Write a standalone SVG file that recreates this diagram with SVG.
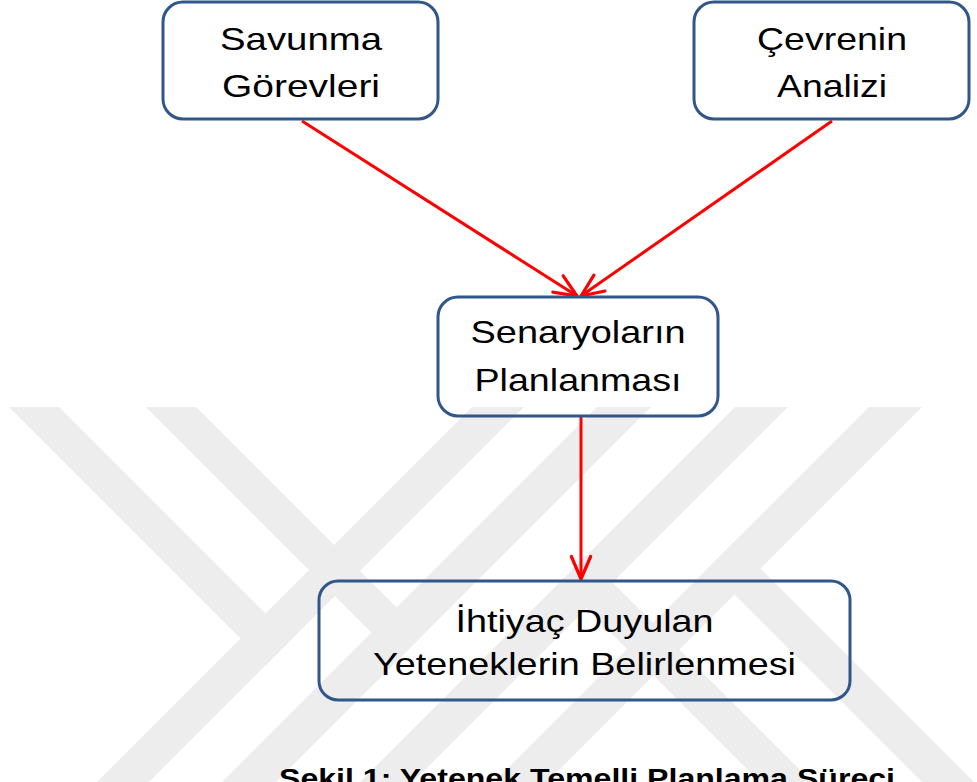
<svg xmlns="http://www.w3.org/2000/svg" width="977" height="782" viewBox="0 0 977 782">
  <defs>
    <style>
      .box { fill: none; stroke: #30568a; stroke-width: 3; }
      .lbl { font-family: "Liberation Sans", Arial, sans-serif; font-size: 32px; fill: #000; text-anchor: middle; }
      .cap { font-family: "Liberation Sans", Arial, sans-serif; font-size: 27px; font-weight: bold; fill: #000; text-anchor: middle; }
      .edge { stroke: #ff0000; stroke-width: 3; fill: none; marker-end: url(#head); }
      .wm { fill: #ededed; }
    </style>
    <marker id="head" markerUnits="userSpaceOnUse" markerWidth="30" markerHeight="30" refX="0" refY="0" viewBox="-24 -12 28 24" orient="auto" overflow="visible">
      <path d="M-21,-9 L0,0 L-21,9" fill="none" stroke="#ff0000" stroke-width="3" stroke-linejoin="round" stroke-linecap="round"/>
    </marker>
  </defs>

  <rect width="977" height="782" fill="#ffffff"/>

  <!-- background emblem: diagonal bands -->
  <g id="emblem">
    <polygon class="wm" points="472,407 524,407 149,782 97,782"/>
    <polygon class="wm" points="597,407 651,407 276,782 222,782"/>
    <polygon class="wm" points="735,407 788,407 413,782 360,782"/>
    <polygon class="wm" points="869,407 922,407 547,782 494,782"/>
    <polygon class="wm" points="9,407 59,407 291.5,639.5 266.5,664.5"/>
    <polygon class="wm" points="146,407 196,407 423.5,634.5 398.5,659.5"/>
    <polygon class="wm" points="560,582 586,556 830,800 778,800"/>
    <polygon class="wm" points="708,568 734,542 992,800 940,800"/>
  </g>

  <!-- connectors -->
  <g id="connectors">
    <line class="edge" x1="302" y1="121" x2="577" y2="296"/>
    <line class="edge" x1="832" y1="121" x2="581" y2="296"/>
    <line class="edge" x1="581" y1="417" x2="581" y2="579"/>
  </g>

  <g id="savunma">
    <rect class="box" x="163" y="2" width="275" height="117" rx="20"/>
    <text class="lbl" x="301" y="50" textLength="162" lengthAdjust="spacingAndGlyphs">Savunma</text>
    <text class="lbl" x="301" y="97" textLength="158" lengthAdjust="spacingAndGlyphs">Görevleri</text>
  </g>

  <g id="cevre">
    <rect class="box" x="694" y="2" width="275" height="117" rx="20"/>
    <text class="lbl" x="832" y="50" textLength="150" lengthAdjust="spacingAndGlyphs">Çevrenin</text>
    <text class="lbl" x="832" y="97" textLength="110" lengthAdjust="spacingAndGlyphs">Analizi</text>
  </g>

  <g id="senaryo">
    <rect class="box" x="438" y="297" width="280" height="119" rx="20"/>
    <text class="lbl" x="578" y="343" textLength="215" lengthAdjust="spacingAndGlyphs">Senaryoların</text>
    <text class="lbl" x="578" y="391" textLength="207" lengthAdjust="spacingAndGlyphs">Planlanması</text>
  </g>

  <g id="yetenek">
    <rect class="box" x="319" y="581" width="531" height="119" rx="19"/>
    <text class="lbl" x="584.5" y="632" textLength="258" lengthAdjust="spacingAndGlyphs">İhtiyaç Duyulan</text>
    <text class="lbl" x="584.5" y="675" textLength="423" lengthAdjust="spacingAndGlyphs">Yeteneklerin Belirlenmesi</text>
  </g>

  <text class="cap" x="587" y="788" textLength="616" lengthAdjust="spacingAndGlyphs">Şekil 1: Yetenek Temelli Planlama Süreci</text>
</svg>
